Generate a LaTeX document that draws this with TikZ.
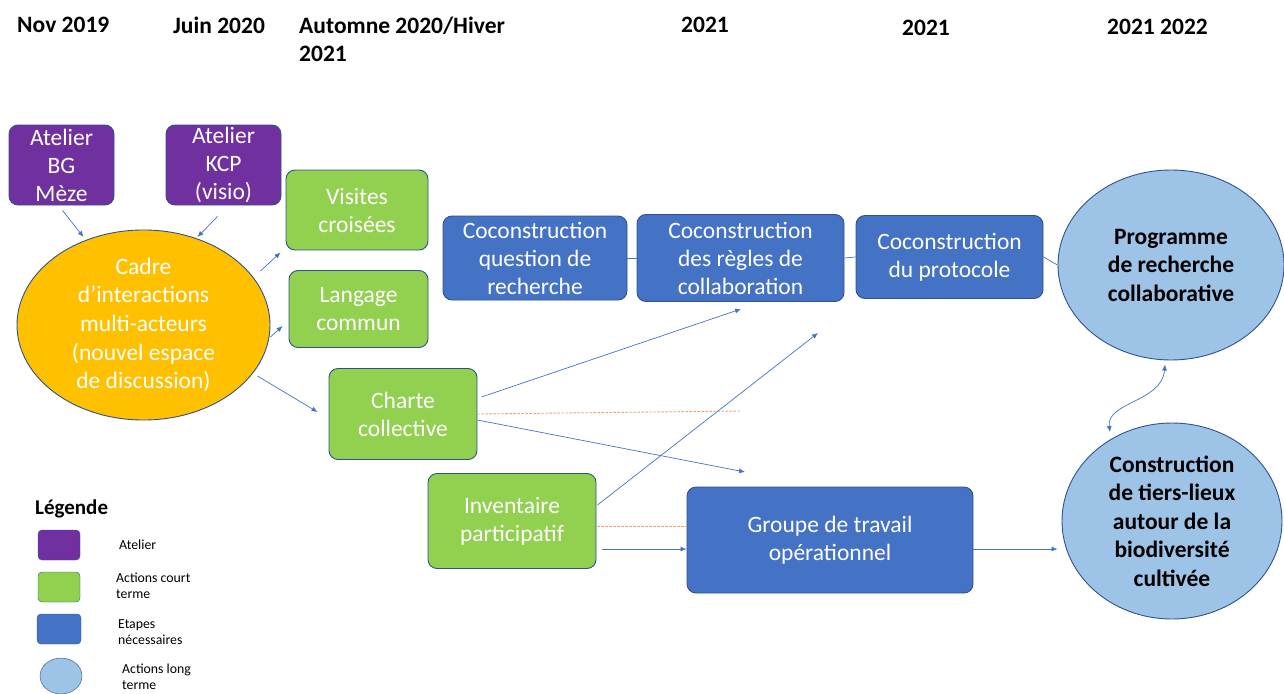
\documentclass[tikz,border=0pt]{standalone}
\usepackage{fontspec}
\setmainfont{Carlito}
\definecolor{atelierPurple}{RGB}{112, 48, 160}
\definecolor{courtGreen}{RGB}{146, 208, 80}
\definecolor{etapeBlue}{RGB}{68, 114, 196}
\definecolor{longBlue}{RGB}{157, 195, 230}
\definecolor{cadreOrange}{RGB}{255, 192, 0}
\definecolor{edgeBlue}{RGB}{47, 82, 143}
\definecolor{dashOrange}{RGB}{241, 160, 110}
\usetikzlibrary{shapes,arrows.meta,positioning,calc}

\begin{document}
\begin{tikzpicture}[x=1pt,y=-1pt,
    txt/.style={font=\fontsize{23.5}{28}\selectfont,align=center,inner sep=0pt},
    box/.style={txt,rounded corners=9pt,draw=edgeBlue,line width=0.9pt,text=white},
    atelierBox/.style={box,fill=atelierPurple},
    courtBox/.style={box,fill=courtGreen},
    etapeBox/.style={box,fill=etapeBlue},
    longEllipse/.style={txt,ellipse,draw=edgeBlue,line width=0.9pt,fill=longBlue,font=\fontsize{23.5}{28.5}\selectfont\bfseries},
    head/.style={font=\fontsize{23.5}{28}\selectfont\bfseries,anchor=west,inner sep=0pt,align=left},
    link/.style={etapeBlue,line width=0.7pt,-{Latex[length=6pt,width=5pt]}},
    joint/.style={etapeBlue,line width=0.7pt},
    lien/.style={dashOrange,line width=0.9pt,dash pattern=on 2.5pt off 1.5pt},
    legtxt/.style={font=\fontsize{13.8}{15.5}\selectfont,anchor=west,inner sep=0pt,align=left}]
\useasboundingbox (0,0) rectangle (1284,693);

% Timeline
\node[head] (t1) at (17,25) {Nov 2019};
\node[head] (t2) at (173,25) {Juin 2020};
\node[head] (t3) at (299,39) {Automne 2020/Hiver\\2021};
\node[head] (t4) at (681,25) {2021};
\node[head] (t5) at (902,28) {2021};
\node[head] (t6) at (1107,27) {2021 2022};

% Ateliers
\node[atelierBox,minimum width=105pt,minimum height=80pt] (bg) at (61.5,165) {Atelier\\BG\\Mèze};
\node[atelierBox,minimum width=115pt,minimum height=80pt] (kcp) at (223.5,165) {Atelier\\KCP\\(visio)};

% Cadre
\node[txt,ellipse,draw=edgeBlue,line width=0.9pt,fill=cadreOrange,text=white,
      font=\fontsize{23.5}{28.7}\selectfont,
      minimum width=253pt,minimum height=172pt] (cadre) at (143.5,325)
      {Cadre\\d’interactions\\multi-acteurs\\(nouvel espace\\de discussion)};

% Actions court terme
\node[courtBox,minimum width=142pt,minimum height=80pt] (visites) at (357,210) {Visites\\croisées};
\node[courtBox,minimum width=139pt,minimum height=77pt] (langage) at (358.5,309) {Langage\\commun};
\node[courtBox,minimum width=148pt,minimum height=91pt] (charte) at (403,414) {Charte\\collective};
\node[courtBox,minimum width=168pt,minimum height=95pt] (inventaire) at (512,521) {Inventaire\\participatif};

% Etapes
\node[etapeBox,minimum width=184pt,minimum height=84pt] (question) at (535,258) {Coconstruction\\question de\\recherche};
\node[etapeBox,minimum width=207pt,minimum height=87pt] (regles) at (740.5,258) {Coconstruction\\des règles de\\collaboration};
\node[etapeBox,minimum width=187pt,minimum height=83pt] (protocole) at (949.5,257) {Coconstruction\\du protocole};
\node[etapeBox,minimum width=286pt,minimum height=106pt] (groupe) at (830,540) {Groupe de travail\\opérationnel};

% Actions long terme
\node[longEllipse,minimum width=226pt,minimum height=190pt] (programme) at (1171,265) {Programme\\de recherche\\collaborative};
\node[longEllipse,minimum width=220pt,minimum height=196pt] (tiers) at (1172,521) {Construction\\de tiers-lieux\\autour de la\\biodiversité\\cultivée};

% Free ends
\coordinate (reglesBas) at (741,309);
\coordinate (protoBas) at (818,333);
\coordinate (groupeHaut) at (745,472);
\coordinate (charteFin) at (740,411);

% Links
\draw[link] ($(bg.south)+(1,5)$) -- ($(cadre.center)+(-60,-88)$);
\draw[link] ($(kcp.south)+(-6,11)$) -- ($(cadre.center)+(54,-88)$);
\draw[link] ($(cadre.east)+(-10,-54)$) -- ($(visites.south west)+(-5,2)$);
\draw[link] ($(cadre.east)+(0,12)$) -- ($(langage.west)+(-6,17)$);
\draw[link] ($(cadre.east)+(-13,51)$) -- ($(charte.west)+(-11,-2)$);
\draw[link] ($(charte.east)+(4,-17)$) -- (reglesBas);
\draw[link] ($(charte.east)+(0,6)$) -- (groupeHaut);
\draw[lien] (charte.east) -- (charteFin);
\draw[link] ($(inventaire.east)+(1,-16)$) -- (protoBas);
\draw[lien] ($(inventaire.east)+(1,5)$) -- (groupe.west |- 0,526);
\draw[link] ($(inventaire.east)+(6,28)$) -- (groupe.west |- 0,549);
\draw[link] (groupe.east |- 0,549) -- ($(tiers.west)+(-4,28)$);
\draw[joint] (question.east) -- (regles.west);
\draw[joint] (regles.east) -- (protocole.west);
\draw[joint] (protocole.east) -- (programme.west);
\draw[etapeBlue,line width=0.7pt,{Latex[length=6pt,width=5pt]}-{Latex[length=6pt,width=5pt]}]
  ($(programme.south)+(-6,4)$) .. controls (1162,402) and (1106,402) .. ($(tiers.center)+(-62,-89)$);

% Légende
\node[font=\fontsize{21}{24}\selectfont\bfseries,anchor=west,inner sep=0pt] (legende) at (35,509) {Légende};
\node[fill=atelierPurple,draw=edgeBlue,rounded corners=4pt,minimum width=42pt,minimum height=30pt] (lg1) at (59,545) {};
\node[fill=courtGreen,draw=edgeBlue,rounded corners=4pt,minimum width=42pt,minimum height=30pt] (lg2) at (59,587) {};
\node[fill=etapeBlue,draw=edgeBlue,rounded corners=4pt,minimum width=44pt,minimum height=30pt] (lg3) at (59,629) {};
\node[ellipse,fill=longBlue,draw=edgeBlue,minimum width=42pt,minimum height=36pt] (lg4) at (61,676) {};
\node[legtxt] at (119,545) {Atelier};
\node[legtxt] at (116,586) {Actions court\\terme};
\node[legtxt] at (118,632) {Etapes\\nécessaires};
\node[legtxt] at (122,677) {Actions long\\terme};
\end{tikzpicture}
\end{document}
